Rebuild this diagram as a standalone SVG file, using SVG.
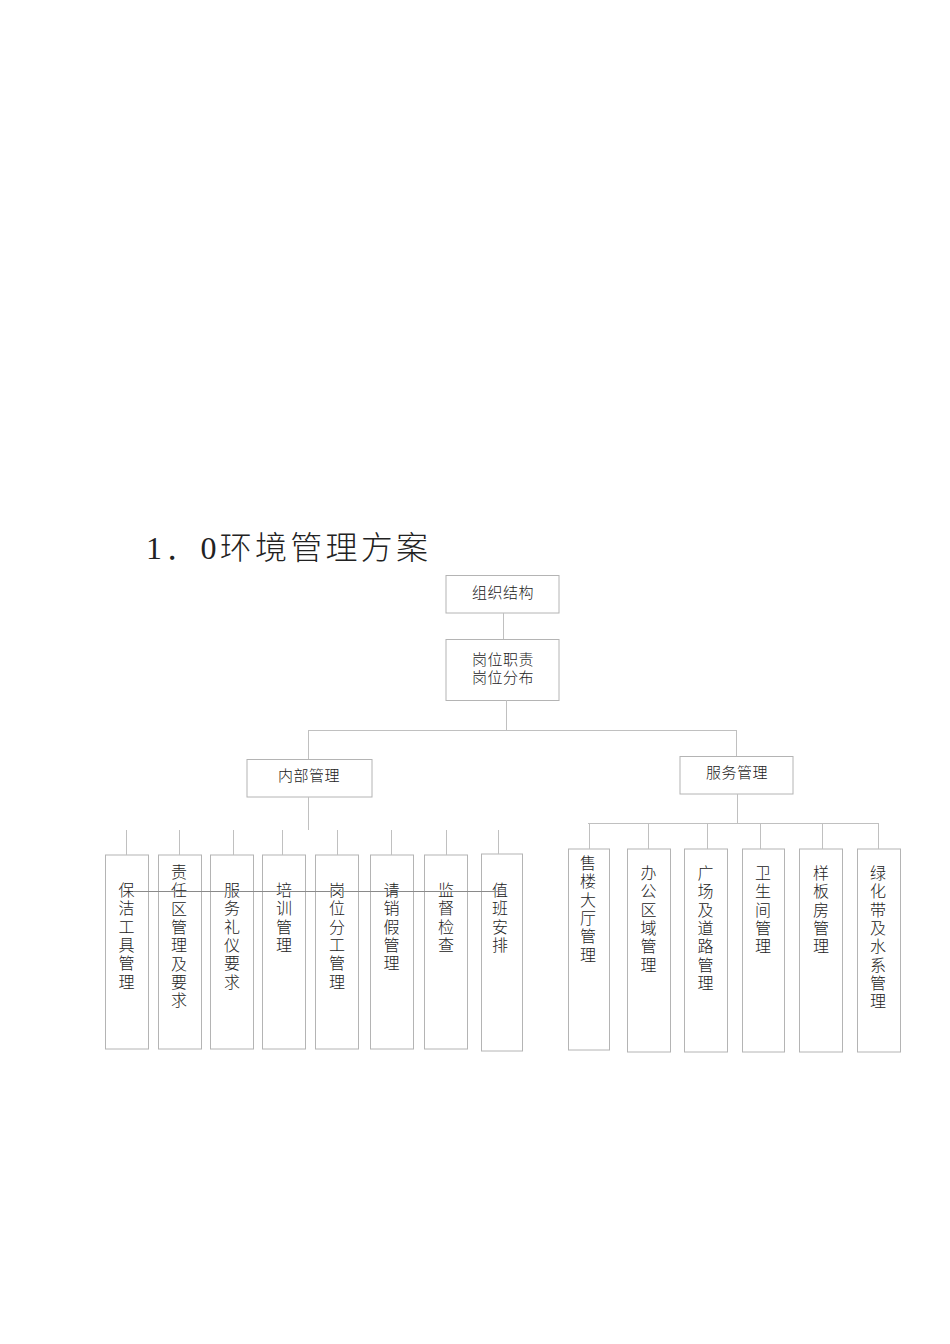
<svg xmlns="http://www.w3.org/2000/svg" width="950" height="1344" viewBox="0 0 950 1344">
<style>
.bg{fill:#ffffff}
.box{fill:none;stroke:#b4b4b4;stroke-width:1}
.ln{stroke:#c0c0c0;stroke-width:1;fill:none}
.t{font-family:"Liberation Serif","Noto Sans CJK SC",serif;font-size:16px;font-weight:300;fill:#222222;text-anchor:middle;dominant-baseline:central}
.h{font-family:"Liberation Serif","Noto Sans CJK SC",serif;font-size:15px;font-weight:300;fill:#222222;text-anchor:middle;dominant-baseline:central;letter-spacing:0.5px}
.title{font-family:"Liberation Serif","Noto Sans CJK SC",serif;font-size:32px;font-weight:300;fill:#222222}
</style>
<rect class="bg" x="0" y="0" width="950" height="1344"/>
<text class="title" x="146" y="559" textLength="282" lengthAdjust="spacing">1．0环境管理方案</text>

<g id="n-zuzhi">
<rect class="box" x="446" y="575.5" width="113" height="37.5"/>
<text class="h" x="503" y="593">组织结构</text>
</g>
<g id="n-gangwei">
<rect class="box" x="446" y="639.5" width="113" height="61"/>
<text class="h" x="503" y="660">岗位职责</text>
<text class="h" x="503" y="678">岗位分布</text>
</g>
<g id="n-neibu">
<rect class="box" x="247" y="759.5" width="125" height="37.5"/>
<text class="h" x="309" y="776">内部管理</text>
</g>
<g id="n-fuwu">
<rect class="box" x="680" y="756.5" width="113" height="37.5"/>
<text class="h" x="737" y="773">服务管理</text>
</g>

<g id="n-l1">
<rect class="box" x="105.5" y="855" width="43" height="194"/>
<text class="t"><tspan x="126.5" y="890">保</tspan><tspan x="126.5" y="908.3">洁</tspan><tspan x="126.5" y="926.6">工</tspan><tspan x="126.5" y="944.9">具</tspan><tspan x="126.5" y="963.2">管</tspan><tspan x="126.5" y="981.5">理</tspan></text>
</g>
<g id="n-l2">
<rect class="box" x="158.5" y="855" width="43" height="194"/>
<text class="t"><tspan x="179" y="872">责</tspan><tspan x="179" y="890.3">任</tspan><tspan x="179" y="908.6">区</tspan><tspan x="179" y="926.9">管</tspan><tspan x="179" y="945.2">理</tspan><tspan x="179" y="963.5">及</tspan><tspan x="179" y="981.8">要</tspan><tspan x="179" y="1000.1">求</tspan></text>
</g>
<g id="n-l3">
<rect class="box" x="210.5" y="855" width="43" height="194"/>
<text class="t"><tspan x="232" y="890">服</tspan><tspan x="232" y="908.3">务</tspan><tspan x="232" y="926.6">礼</tspan><tspan x="232" y="944.9">仪</tspan><tspan x="232" y="963.2">要</tspan><tspan x="232" y="981.5">求</tspan></text>
</g>
<g id="n-l4">
<rect class="box" x="262.5" y="855" width="43" height="194"/>
<text class="t"><tspan x="284" y="890">培</tspan><tspan x="284" y="908.3">训</tspan><tspan x="284" y="926.6">管</tspan><tspan x="284" y="944.9">理</tspan></text>
</g>
<g id="n-l5">
<rect class="box" x="315.5" y="855" width="43" height="194"/>
<text class="t"><tspan x="337" y="890">岗</tspan><tspan x="337" y="908.3">位</tspan><tspan x="337" y="926.6">分</tspan><tspan x="337" y="944.9">工</tspan><tspan x="337" y="963.2">管</tspan><tspan x="337" y="981.5">理</tspan></text>
</g>
<g id="n-l6">
<rect class="box" x="370.5" y="855" width="43" height="194"/>
<text class="t"><tspan x="391.5" y="890">请</tspan><tspan x="391.5" y="908.3">销</tspan><tspan x="391.5" y="926.6">假</tspan><tspan x="391.5" y="944.9">管</tspan><tspan x="391.5" y="963.2">理</tspan></text>
</g>
<g id="n-l7">
<rect class="box" x="424.5" y="855" width="43" height="194"/>
<text class="t"><tspan x="446" y="890">监</tspan><tspan x="446" y="908.3">督</tspan><tspan x="446" y="926.6">检</tspan><tspan x="446" y="944.9">查</tspan></text>
</g>
<g id="n-l8">
<rect class="box" x="481.5" y="854" width="41" height="197"/>
<text class="t"><tspan x="500" y="890">值</tspan><tspan x="500" y="908.3">班</tspan><tspan x="500" y="926.6">安</tspan><tspan x="500" y="944.9">排</tspan></text>
</g>

<g id="n-r1">
<rect class="box" x="568.5" y="849" width="41" height="201"/>
<text class="t"><tspan x="588" y="863">售</tspan><tspan x="588" y="881.3">楼</tspan><tspan x="588" y="899.6">大</tspan><tspan x="588" y="917.9">厅</tspan><tspan x="588" y="936.2">管</tspan><tspan x="588" y="954.5">理</tspan></text>
</g>
<g id="n-r2">
<rect class="box" x="627.5" y="849" width="43" height="203"/>
<text class="t"><tspan x="648.5" y="873">办</tspan><tspan x="648.5" y="891.3">公</tspan><tspan x="648.5" y="909.6">区</tspan><tspan x="648.5" y="927.9">域</tspan><tspan x="648.5" y="946.2">管</tspan><tspan x="648.5" y="964.5">理</tspan></text>
</g>
<g id="n-r3">
<rect class="box" x="684.5" y="849" width="43" height="203"/>
<text class="t"><tspan x="705.5" y="873">广</tspan><tspan x="705.5" y="891.3">场</tspan><tspan x="705.5" y="909.6">及</tspan><tspan x="705.5" y="927.9">道</tspan><tspan x="705.5" y="946.2">路</tspan><tspan x="705.5" y="964.5">管</tspan><tspan x="705.5" y="982.8">理</tspan></text>
</g>
<g id="n-r4">
<rect class="box" x="742.5" y="849" width="42" height="203"/>
<text class="t"><tspan x="763" y="873">卫</tspan><tspan x="763" y="891.3">生</tspan><tspan x="763" y="909.6">间</tspan><tspan x="763" y="927.9">管</tspan><tspan x="763" y="946.2">理</tspan></text>
</g>
<g id="n-r5">
<rect class="box" x="799.5" y="849" width="43" height="203"/>
<text class="t"><tspan x="821" y="873">样</tspan><tspan x="821" y="891.3">板</tspan><tspan x="821" y="909.6">房</tspan><tspan x="821" y="927.9">管</tspan><tspan x="821" y="946.2">理</tspan></text>
</g>
<g id="n-r6">
<rect class="box" x="857.5" y="849" width="43" height="203"/>
<text class="t"><tspan x="878" y="873">绿</tspan><tspan x="878" y="891.3">化</tspan><tspan x="878" y="909.6">带</tspan><tspan x="878" y="927.9">及</tspan><tspan x="878" y="946.2">水</tspan><tspan x="878" y="964.5">系</tspan><tspan x="878" y="982.8">管</tspan><tspan x="878" y="1001.1">理</tspan></text>
</g>

<g id="connectors">
<line class="ln" x1="503.5" y1="613" x2="503.5" y2="639"/>
<line class="ln" x1="506.5" y1="700" x2="506.5" y2="730"/>
<line class="ln" x1="308" y1="730.5" x2="736" y2="730.5"/>
<line class="ln" x1="308.5" y1="730" x2="308.5" y2="759"/>
<line class="ln" x1="736.5" y1="730" x2="736.5" y2="756"/>
<line class="ln" x1="308.5" y1="797" x2="308.5" y2="830"/>
<line class="ln" x1="126.5" y1="830" x2="126.5" y2="855"/>
<line class="ln" x1="179.5" y1="830" x2="179.5" y2="855"/>
<line class="ln" x1="233.5" y1="830" x2="233.5" y2="855"/>
<line class="ln" x1="282.5" y1="830" x2="282.5" y2="855"/>
<line class="ln" x1="337.5" y1="830" x2="337.5" y2="855"/>
<line class="ln" x1="391.5" y1="830" x2="391.5" y2="855"/>
<line class="ln" x1="446.5" y1="830" x2="446.5" y2="855"/>
<line class="ln" x1="498.5" y1="830" x2="498.5" y2="854"/>
<line class="ln" x1="133" y1="891.5" x2="498" y2="891.5" style="stroke:#8a8a8a"/>
<line class="ln" x1="737.5" y1="794" x2="737.5" y2="823"/>
<line class="ln" x1="588" y1="823.5" x2="878" y2="823.5"/>
<line class="ln" x1="589.5" y1="823" x2="589.5" y2="849"/>
<line class="ln" x1="648.5" y1="823" x2="648.5" y2="849"/>
<line class="ln" x1="707.5" y1="823" x2="707.5" y2="849"/>
<line class="ln" x1="760.5" y1="823" x2="760.5" y2="849"/>
<line class="ln" x1="822.5" y1="823" x2="822.5" y2="849"/>
<line class="ln" x1="878.5" y1="823" x2="878.5" y2="849"/>
</g>
</svg>
